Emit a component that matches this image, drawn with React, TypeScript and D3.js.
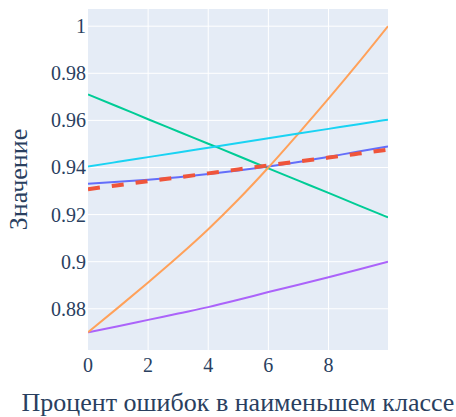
import * as d3 from 'd3';

const W = 456;
const H = 417;
const MARGIN = { top: 9, right: 68, bottom: 67, left: 88 };

const xValues = [0, 1, 2, 3, 4, 5, 6, 7, 8, 9, 9.98];
const blueSeries = [0.9331, 0.9339, 0.9348, 0.9359, 0.9372, 0.9387, 0.9404, 0.9423, 0.9445, 0.9468, 0.9489];
const greenSeries = [0.971, 0.9658, 0.9605, 0.9553, 0.9501, 0.9449, 0.9396, 0.9344, 0.9292, 0.9239, 0.9188];
const purpleSeries = [0.87, 0.8726, 0.8753, 0.878, 0.8807, 0.8838, 0.8871, 0.8902, 0.8934, 0.8967, 0.9];
const orangeSeries = [0.87, 0.8805, 0.8912, 0.9022, 0.9138, 0.9264, 0.94, 0.9544, 0.9692, 0.9845, 1.0];
const cyanSeries = [0.9404, 0.9424, 0.9444, 0.9464, 0.9484, 0.9504, 0.9524, 0.9544, 0.9564, 0.9584, 0.9603];
const redSeries = [0.9308, 0.9325, 0.9342, 0.9358, 0.9375, 0.9392, 0.9409, 0.9426, 0.9442, 0.9459, 0.9476];

const xTicks = [0, 2, 4, 6, 8];
const yTicks = [0.88, 0.9, 0.92, 0.94, 0.96, 0.98, 1];

const xTitle = 'Процент ошибок в наименьшем классе';
const yTitle = 'Значение';

const FONT = "'Liberation Serif', 'Times New Roman', serif";
const TEXT = '#2a3f5f';

export default function App() {
  const innerW = W - MARGIN.left - MARGIN.right;
  const innerH = H - MARGIN.top - MARGIN.bottom;

  const x = d3.scaleLinear().domain([0, 9.98]).range([0, innerW]);
  const y = d3.scaleLinear().domain([0.8625, 1.0073]).range([innerH, 0]);

  const line = (vals: number[]) =>
    d3
      .line<number>()
      .x((_, i) => x(xValues[i]))
      .y((d) => y(d))
      .curve(d3.curveMonotoneX)(vals) ?? '';

  // draw order: later on top
  const series = [
    { vals: blueSeries, color: '#636efa', width: 2, dash: '' },
    { vals: greenSeries, color: '#00cc96', width: 2, dash: '' },
    { vals: purpleSeries, color: '#ab63fa', width: 2, dash: '' },
    { vals: orangeSeries, color: '#ffa15a', width: 2, dash: '' },
    { vals: cyanSeries, color: '#19d3f3', width: 2, dash: '' },
    { vals: redSeries, color: '#ef553b', width: 4, dash: '12,12' },
  ];

  const txt = { fontFamily: FONT, fill: TEXT };

  return (
    <svg
      width={W}
      height={H}
      style={{ position: 'absolute', left: 0, top: 0, background: '#fff' }}
    >
      <g transform={`translate(${MARGIN.left},${MARGIN.top})`}>
        <rect width={innerW} height={innerH} fill="#e5ecf6" />
        {yTicks.map((t) => (
          <line key={`gy${t}`} x1={0} x2={innerW} y1={y(t)} y2={y(t)} stroke="#fff" strokeWidth={1} />
        ))}
        {xTicks
          .filter((t) => t !== 0)
          .map((t) => (
            <line key={`gx${t}`} x1={x(t)} x2={x(t)} y1={0} y2={innerH} stroke="#fff" strokeWidth={1} />
          ))}

        <defs>
          <clipPath id="plot-clip">
            <rect width={innerW} height={innerH} />
          </clipPath>
        </defs>
        <g clipPath="url(#plot-clip)">
          {series.map((s, i) => (
            <path
              key={i}
              d={line(s.vals)}
              fill="none"
              stroke={s.color}
              strokeWidth={s.width}
              strokeDasharray={s.dash || undefined}
              strokeLinejoin="round"
            />
          ))}
        </g>

        {/* y tick labels */}
        {yTicks.map((t) => (
          <text
            key={`ly${t}`}
            x={-2}
            y={y(t)}
            dy="0.35em"
            textAnchor="end"
            style={{ ...txt, fontSize: '20px' }}
          >
            {String(+t.toFixed(2))}
          </text>
        ))}
        {/* x tick labels */}
        {xTicks.map((t) => (
          <text
            key={`lx${t}`}
            x={x(t)}
            y={innerH + 22}
            textAnchor="middle"
            style={{ ...txt, fontSize: '20px' }}
          >
            {t}
          </text>
        ))}

        <text
          x={innerW / 2}
          y={innerH + 61}
          textAnchor="middle"
          style={{ ...txt, fontSize: '26px' }}
        >
          {xTitle}
        </text>
        <text
          transform={`translate(${27 - MARGIN.left},${innerH / 2}) rotate(-90)`}
          textAnchor="middle"
          style={{ ...txt, fontSize: '26px' }}
        >
          {yTitle}
        </text>
      </g>
    </svg>
  );
}
